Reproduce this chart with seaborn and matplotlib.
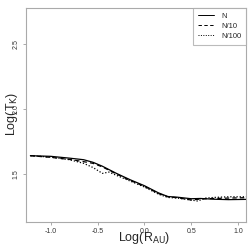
import matplotlib
matplotlib.use("Agg")
import matplotlib.pyplot as plt
import seaborn as sns
import pandas as pd

# Data
x_n = [-1.22, -1.0, -0.8, -0.65, -0.55, -0.45, -0.3, -0.15, 0.0, 0.15, 0.25, 0.35, 0.5, 0.6, 0.75, 0.9, 1.09]
y_n = [1.641, 1.636, 1.622, 1.610, 1.590, 1.560, 1.505, 1.455, 1.410, 1.355, 1.327, 1.322, 1.310, 1.312, 1.306, 1.303, 1.305]

x_n10 = [-1.22, -1.0, -0.8, -0.65, -0.55, -0.45, -0.3, -0.15, 0.0, 0.15, 0.25, 0.35, 0.5, 0.6, 0.75, 0.9, 1.09]
y_n10 = [1.641, 1.628, 1.612, 1.595, 1.582, 1.555, 1.500, 1.450, 1.405, 1.350, 1.325, 1.318, 1.300, 1.308, 1.312, 1.315, 1.318]

x_n100 = [-1.22, -1.0, -0.8, -0.65, -0.55, -0.45, -0.38, -0.3, -0.15, 0.0, 0.15, 0.25, 0.35, 0.5, 0.57, 0.65, 0.75, 0.9, 1.09]
y_n100 = [1.641, 1.630, 1.610, 1.582, 1.550, 1.505, 1.515, 1.490, 1.445, 1.400, 1.345, 1.320, 1.315, 1.300, 1.292, 1.315, 1.320, 1.325, 1.325]

series_names = ["N", "N/10", "N/100"]
x_ticks = [-1.0, -0.5, 0.0, 0.5, 1.0]
y_ticks = [1.5, 2.0, 2.5]

df = pd.concat([
    pd.DataFrame({"x": x_n, "y": y_n, "s": series_names[0]}),
    pd.DataFrame({"x": x_n10, "y": y_n10, "s": series_names[1]}),
    pd.DataFrame({"x": x_n100, "y": y_n100, "s": series_names[2]}),
], ignore_index=True)

sns.set_style("white")
plt.rcParams["font.family"] = ["Liberation Sans", "DejaVu Sans"]

fig = plt.figure(figsize=(2.49, 2.49), dpi=100)
ax = fig.add_axes([26/249, 27/249, 220/249, 214/249])

sns.lineplot(data=df, x="x", y="y", hue="s", style="s",
             palette={n: "black" for n in series_names},
             dashes={"N": "", "N/10": (3.5, 2.5), "N/100": (1, 1.5)},
             linewidth=0.9, sort=False, ax=ax, legend=True)

ax.set_xlim(-1.267, 1.086)
ax.set_ylim(1.131, 2.777)
ax.set_xticks(x_ticks)
ax.set_xticklabels([f"{v:.1f}" for v in x_ticks])
ax.set_yticks(y_ticks)
ax.set_yticklabels([f"{v:.1f}" for v in y_ticks], rotation=90, va="center")
ax.tick_params(axis="both", which="both", direction="out", length=2.5, width=0.5,
               color="#888888", labelsize=5, labelcolor="#333333", pad=2,
               bottom=True, left=True)
for sp in ax.spines.values():
    sp.set_color("#aaaaaa")
    sp.set_linewidth(0.8)

ax.set_xlabel(r"Log(R$_{\mathrm{AU}}$)", fontsize=9, va="center")
ax.set_ylabel(r"Log(T$_{\mathrm{K}}$)", fontsize=9, va="center")
ax.xaxis.set_label_coords(118.5/220, -16/214)
ax.yaxis.set_label_coords(-14/220, 108/214)

leg = ax.legend(loc="upper right", borderaxespad=0, fontsize=5.5, frameon=True,
                fancybox=False, handlelength=2.2, handletextpad=0.9,
                labelspacing=0.35, borderpad=0.6, title=None)
leg.get_frame().set_edgecolor("#aaaaaa")
leg.get_frame().set_linewidth(0.8)
for line in leg.get_lines():
    line.set_linewidth(0.7)

fig.savefig("out.png", dpi=100)
